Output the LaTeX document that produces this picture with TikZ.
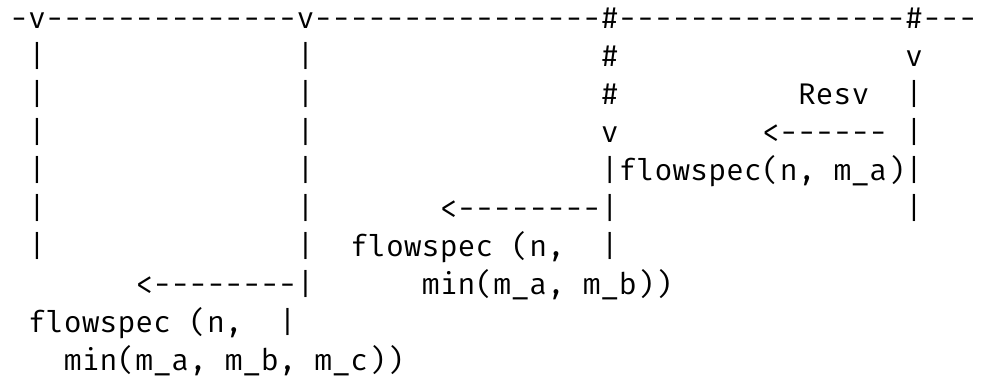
\documentclass[tikz,border=0pt]{standalone}
\usepackage{fontspec}
\setmonofont{Fira Mono}
\begin{document}
\begin{tikzpicture}[x=1bp,y=-1bp,
  ch/.style={anchor=base west, inner sep=0pt, outer sep=0pt, text=black,
    font=\ttfamily\fontsize{29.83bp}{38bp}\selectfont}]
\useasboundingbox (0,0) rectangle (982,379);
% column c starts at 10.2+17.9*c ; row r baseline at 28+38*(r-1)
\node[ch] (top) at ({10.2+17.9*0},28) {-v--------------v----------------\#----------------\#---};
% row 2
\node[ch] (r2a) at ({10.2+17.9*1},66) {|};
\node[ch] (r2b) at ({10.2+17.9*16},66) {|};
\node[ch] (r2c) at ({10.2+17.9*33},66) {\#};
\node[ch] (r2d) at ({10.2+17.9*50},66) {v};
% row 3
\node[ch] (r3a) at ({10.2+17.9*1},104) {|};
\node[ch] (r3b) at ({10.2+17.9*16},104) {|};
\node[ch] (r3c) at ({10.2+17.9*33},104) {\#};
\node[ch] (resv) at ({10.2+17.9*44},104) {Resv};
\node[ch] (r3d) at ({10.2+17.9*50},104) {|};
% row 4
\node[ch] (r4a) at ({10.2+17.9*1},142) {|};
\node[ch] (r4b) at ({10.2+17.9*16},142) {|};
\node[ch] (r4c) at ({10.2+17.9*33},142) {v};
\node[ch] (arr1) at ({10.2+17.9*42},142) {<------};
\node[ch] (r4d) at ({10.2+17.9*50},142) {|};
% row 5
\node[ch] (r5a) at ({10.2+17.9*1},180) {|};
\node[ch] (r5b) at ({10.2+17.9*16},180) {|};
\node[ch] (fs1) at ({10.2+17.9*33},180) {|flowspec(n, m\_a)|};
% row 6
\node[ch] (r6a) at ({10.2+17.9*1},218) {|};
\node[ch] (r6b) at ({10.2+17.9*16},218) {|};
\node[ch] (arr2) at ({10.2+17.9*24},218) {<--------|};
\node[ch] (r6d) at ({10.2+17.9*50},218) {|};
% row 7
\node[ch] (r7a) at ({10.2+17.9*1},256) {|};
\node[ch] (r7b) at ({10.2+17.9*16},256) {|};
\node[ch] (fs2) at ({10.2+17.9*19},256) {flowspec (n,};
\node[ch] (r7c) at ({10.2+17.9*33},256) {|};
% row 8
\node[ch] (arr3) at ({10.2+17.9*7},294) {<--------|};
\node[ch] (min2) at ({10.2+17.9*23},294) {min(m\_a, m\_b))};
% row 9
\node[ch] (fs3) at ({10.2+17.9*1},332) {flowspec (n,};
\node[ch] (r9a) at ({10.2+17.9*15},332) {|};
% row 10
\node[ch] (min3) at ({10.2+17.9*3},370) {min(m\_a, m\_b, m\_c))};
\end{tikzpicture}
\end{document}
